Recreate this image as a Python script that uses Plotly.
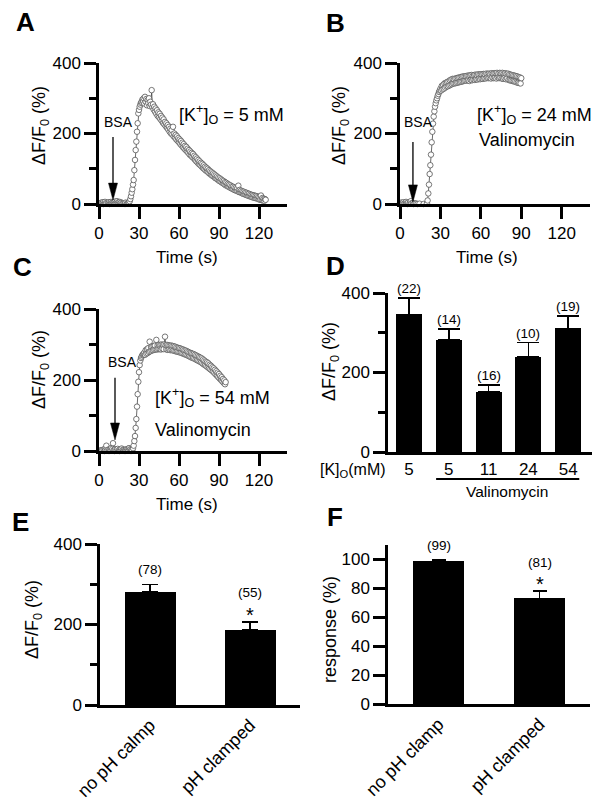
import plotly.graph_objects as go

# The page adds an 8 px body margin, so the figure is 16 px smaller than the window
# and every reference pixel position is shifted by that margin.
OFF = 8
FW, FH = 600 - 2 * OFF, 808 - 2 * OFF
FONT = "Liberation Sans, Arial, Helvetica, sans-serif"

# ------------------------------------------------------------------ data
SAMPLE_INTERVAL_S = 0.5

trace_a_values = [
    2, 0, 3, -2, 4, 1, 5, 0, 2, 6, 1, 3, -1, 4, 2, 5, 0, 3, 6, 2,
    4, 1, 5, 3, 7, 2, 4, 8, 3, 5, 1, 6, 2, 4, -2, 3, 1, -3, 2, 0,
    4, -1, 2, 1, 3,
    5, 8, 14, 22, 32, 42, 55, 68, 96, 125, 153, 177, 205, 229, 257, 267, 276, 282, 287, 290,
    296, 292,
    300, 285, 304, 290, 298, 280, 295, 286, 300, 278, 290, 282, 323, 275,
    283, 268, 276, 262, 271, 256, 266, 250, 260, 246,
    256, 241, 250, 236, 245, 230, 240, 226, 233, 221,
    229, 216, 224, 211, 219, 205, 214, 200, 210, 197,
    219, 192, 200, 188, 196, 183, 192, 179, 187, 175,
    183, 170, 179, 166, 174, 161, 170, 157, 165, 153,
    162, 149, 157, 145, 153, 140, 149, 137, 145, 133,
    142, 130, 137, 125, 133, 121, 129, 117, 125, 113,
    121, 110, 117, 106, 114, 102, 110, 99, 106, 95,
    103, 93, 100, 89, 96, 86, 93, 83, 90, 80,
    87, 78, 84, 74, 81, 72, 78, 69, 75, 66,
    73, 64, 70, 61, 67, 59, 65, 56, 62, 53,
    60, 52, 57, 49, 55, 47, 53, 45, 50, 43,
    49, 41, 47, 39, 45, 38, 43, 36, 52, 34,
    40, 33, 38, 31, 36, 29, 35, 28, 33, 26,
    32, 25, 30, 23, 29, 22, 27, 21, 26, 19,
    25, 18, 24, 17, 23, 16, 22, 15, 20, 13,
    19, 12, 24, 11, 17, 10, 15, 9, 14, 12,
]

trace_b_values = [
    3, 0, 4, -2, 2, 5, 1, -1, 3, 6, 2, 0, 4, -3, 1, 5, 8, 2, -2, 3,
    0, -4, 2, -3, 1, -5, 0, -2, -6, 1, -4, -1, -7, -2, -5, 0, -6, -3, -8, -2,
    2,
    10, 30, 55, 85, 110, 140, 175, 205, 228, 248, 263, 276, 286, 294, 300, 307, 312, 318, 322, 327,
    322, 335, 325, 338, 327, 342, 330, 344, 333, 346,
    334, 348, 336, 351, 338, 353, 340, 355, 342, 354,
    342, 356, 343, 357, 344, 358, 345, 359, 346, 360,
    347, 361, 348, 362, 349, 362, 350, 363, 350, 364,
    351, 364, 349, 365, 352, 366, 351, 364, 353, 366,
    352, 367, 354, 366, 353, 368, 355, 367, 354, 368,
    356, 368, 355, 369, 357, 368, 356, 370, 358, 369,
    357, 370, 358, 369, 356, 371, 359, 370, 357, 371,
    358, 371, 356, 372, 359, 370, 357, 372, 358, 371,
    356, 372, 355, 370, 357, 371, 354, 369, 356, 370,
    352, 368, 351, 367, 350, 366, 349, 365, 348, 364,
    347, 363, 345, 362, 344, 360, 343, 359, 342, 357,
]

trace_c_values = [
    0, -3, 2, -4, 1, 3, -2, 4, 0, 6, 3, 15, 2, -3, 4, 0, 5, 2, 8, 1,
    6, 22, 3, 0, 5, -2, 4, 1, 6, -1, 3, 0, 5, 2, 7, -2, 4, 1, 3, 0,
    2, 5, 1, 6, 2, 8, 3, 5, 0, 4, 2,
    8, 15, 28, 42, 65, 90, 125, 160, 195, 222, 242, 255, 262, 266, 270, 272, 274, 277,
    271, 284,
    274, 287, 276, 290, 279, 308, 281, 293, 283, 295,
    284, 296, 285, 297, 286, 313, 286, 298, 287, 299,
    287, 299, 286, 300, 288, 299, 287, 300, 322, 298,
    286, 299, 285, 298, 286, 297, 284, 297, 285, 296,
    283, 295, 282, 294, 281, 292, 280, 291, 279, 290,
    278, 289, 277, 287, 275, 286, 274, 284, 272, 283,
    271, 281, 269, 279, 267, 277, 265, 276, 263, 274,
    262, 273, 260, 271, 258, 269, 256, 267, 254, 265,
    252, 263, 250, 261, 247, 258, 244, 255, 242, 252,
    239, 250, 236, 247, 233, 243, 230, 240, 227, 236,
    224, 233, 220, 229, 216, 225, 212, 221, 208, 217,
    204, 212, 200, 208, 196, 203, 192, 199, 188, 194,
]

bsa_time_a = 10.5
bsa_time_b = 9.6
bsa_time_c = 12.0

time_ticks = [0, 30, 60, 90, 120]
df_ticks = [0, 200, 400]
df_minor_ticks = [100, 300]

d_labels = ["5", "5", "11", "24", "54"]
d_means = [346, 282, 152, 239, 311]
d_sem = [41, 27, 17, 36, 31]
d_n = ["(22)", "(14)", "(16)", "(10)", "(19)"]

e_labels = ["no pH calmp", "pH clamped"]
e_means = [281, 186]
e_sem = [18, 20]
e_n = ["(78)", "(55)"]

f_labels = ["no pH clamp", "pH clamped"]
f_means = [99, 73]
f_sem = [0.5, 5]
f_n = ["(99)", "(81)"]
f_ticks = [0, 20, 40, 60, 80, 100]


def times_for(values):
    return [i * SAMPLE_INTERVAL_S for i in range(len(values))]


# ------------------------------------------------------------------ geometry helpers
def px(x):
    return (x - OFF) / FW


def py(y):
    return 1 - (y - OFF) / FH


def dom_x(p0, p1):
    return [px(p0), px(p1)]


def dom_y(top, bottom):
    return [py(bottom), py(top)]


TIME_RANGE = [0, 141]
DF_RANGE = [0, 400]

geo = {
    "A": dict(xd=dom_x(99, 287), yd=dom_y(63, 204), xr=TIME_RANGE, yr=DF_RANGE),
    "B": dict(xd=dom_x(400, 590), yd=dom_y(63, 204), xr=TIME_RANGE, yr=DF_RANGE),
    "C": dict(xd=dom_x(99, 287), yd=dom_y(309, 451), xr=TIME_RANGE, yr=DF_RANGE),
    "D": dict(xd=dom_x(388, 592), yd=dom_y(293, 452), xr=[0.47, 5.6], yr=DF_RANGE),
    "E": dict(xd=dom_x(100, 300), yd=dom_y(544, 705), xr=[-0.5, 1.5], yr=DF_RANGE),
    "F": dict(xd=dom_x(388, 590), yd=dom_y(545, 704), xr=[-0.5, 1.5], yr=[0, 110]),
}
axis_ids = {"A": "", "B": "2", "C": "3", "D": "4", "E": "5", "F": "6"}

tickfont = dict(size=17, family=FONT, color="black")
base_axis = dict(showline=True, linecolor="black", linewidth=2.5, showgrid=False,
                 zeroline=False, tickcolor="black", tickwidth=2.5, ticklen=12,
                 tickfont=tickfont, fixedrange=True, automargin=False)
minor_df = dict(tickmode="array", tickvals=df_minor_ticks, ticks="outside", ticklen=7,
                tickwidth=2.5, tickcolor="black", showgrid=False)

fig = go.Figure()

# ------------------------------------------------------------------ time-course traces
line_style = dict(color="#444444", width=0.8)
marker_style = dict(symbol="circle", size=5.5, color="white",
                    line=dict(color="#555555", width=0.8))
for key, vals in (("A", trace_a_values), ("B", trace_b_values), ("C", trace_c_values)):
    sid = axis_ids[key]
    fig.add_trace(go.Scatter(
        x=times_for(vals), y=vals, mode="lines+markers",
        line=line_style, marker=marker_style, cliponaxis=False,
        xaxis="x" + sid, yaxis="y" + sid, showlegend=False, hoverinfo="skip"))


# ------------------------------------------------------------------ bar panels
def bar_trace(xs, means, sem, sid, width, capw):
    return go.Bar(
        x=xs, y=means, width=width, marker=dict(color="black", line=dict(width=0)),
        error_y=dict(type="data", symmetric=False, array=sem, arrayminus=[0] * len(sem),
                     color="black", thickness=1.6, width=capw),
        xaxis="x" + sid, yaxis="y" + sid, showlegend=False, hoverinfo="skip")


d_pos = list(range(1, len(d_means) + 1))
e_pos = list(range(len(e_means)))
f_pos = list(range(len(f_means)))
fig.add_trace(bar_trace(d_pos, d_means, d_sem, "4", 0.65, 11))
fig.add_trace(bar_trace(e_pos, e_means, e_sem, "5", 0.51, 8))
fig.add_trace(bar_trace(f_pos, f_means, f_sem, "6", 0.51, 7))

# ------------------------------------------------------------------ axes
layout_axes = {}
for key in "ABC":
    g = geo[key]
    sid = axis_ids[key]
    layout_axes["xaxis" + sid] = dict(base_axis, domain=g["xd"], range=g["xr"], anchor="y" + sid,
                                      ticks="outside", tickmode="array", tickvals=time_ticks)
    layout_axes["yaxis" + sid] = dict(base_axis, domain=g["yd"], range=g["yr"], anchor="x" + sid,
                                      ticks="outside", tickmode="array", tickvals=df_ticks,
                                      minor=minor_df)

g = geo["D"]
layout_axes["xaxis4"] = dict(base_axis, domain=g["xd"], range=g["xr"], anchor="y4", ticks="",
                             tickmode="array", tickvals=d_pos, ticktext=d_labels)
layout_axes["yaxis4"] = dict(base_axis, domain=g["yd"], range=g["yr"], anchor="x4", ticks="outside",
                             tickmode="array", tickvals=df_ticks, minor=minor_df)
g = geo["E"]
layout_axes["xaxis5"] = dict(base_axis, domain=g["xd"], range=g["xr"], anchor="y5", ticks="",
                             tickmode="array", tickvals=e_pos, ticktext=e_labels, tickangle=-45,
                             tickfont=dict(tickfont, size=18))
layout_axes["yaxis5"] = dict(base_axis, domain=g["yd"], range=g["yr"], anchor="x5", ticks="outside",
                             tickmode="array", tickvals=df_ticks, minor=minor_df)
g = geo["F"]
layout_axes["xaxis6"] = dict(base_axis, domain=g["xd"], range=g["xr"], anchor="y6", ticks="",
                             tickmode="array", tickvals=f_pos, ticktext=f_labels, tickangle=-45,
                             tickfont=dict(tickfont, size=18))
layout_axes["yaxis6"] = dict(base_axis, domain=g["yd"], range=g["yr"], anchor="x6", ticks="outside",
                             tickmode="array", tickvals=f_ticks)

# ------------------------------------------------------------------ annotations
ann = []


def text(x, y, s, size, xref="paper", yref="paper", xanchor="center", yanchor="middle",
         bold=False, angle=0, yshift=0):
    ann.append(dict(x=x, y=y, xref=xref, yref=yref, text=("<b>%s</b>" % s) if bold else s,
                    showarrow=False, xanchor=xanchor, yanchor=yanchor, textangle=angle,
                    yshift=yshift, font=dict(size=size, family=FONT, color="black")))


# panel letters
for letter, (lx, ly) in {"A": (25, 22), "B": (335, 23), "C": (22, 267),
                         "D": (335, 266), "E": (20, 522), "F": (335, 517)}.items():
    text(px(lx), py(ly), letter, 26, bold=True)

# axis titles
for cx, cy in ((187, 258), (487, 258), (187, 505)):
    text(px(cx), py(cy), "Time (s)", 17)
df_title = "\u0394F/F<sub>0</sub> (%)"
for cx, cy in ((40, 126), (340, 126), (40, 370), (330, 362), (33, 620)):
    text(px(cx), py(cy), df_title, 18, angle=-90)
text(px(330), py(630), "response (%)", 18, angle=-90)

# condition labels inside the time-course panels
K = "[K<sup>+</sup>]<sub>O</sub>"
text(58.5, 255, K + " = 5 mM", 18, xref="x", yref="y", xanchor="left")
text(56, 255, K + " = 24 mM", 18, xref="x2", yref="y2", xanchor="left")
text(57, 182, "Valinomycin", 18, xref="x2", yref="y2", xanchor="left")
text(40.5, 150, K + " = 54 mM", 18, xref="x3", yref="y3", xanchor="left")
text(40.5, 59, "Valinomycin", 18, xref="x3", yref="y3", xanchor="left")

# BSA labels
text(bsa_time_a + 3.8, 233, "BSA", 14, xref="x", yref="y")
text(bsa_time_b + 4.0, 233, "BSA", 14, xref="x2", yref="y2")
text(bsa_time_c + 5.8, 252, "BSA", 14, xref="x3", yref="y3")

# n labels above bars
for xv, m, s, n in zip(d_pos, d_means, d_sem, d_n):
    text(xv, m + s, n, 13.5, xref="x4", yref="y4", yanchor="bottom", yshift=0)

text(e_pos[0], e_means[0] + e_sem[0], e_n[0], 13.5, xref="x5", yref="y5", yanchor="bottom", yshift=6)
text(e_pos[1], e_means[1] + e_sem[1], "*", 20, xref="x5", yref="y5", yanchor="bottom", yshift=-6)
text(e_pos[1], e_means[1] + e_sem[1], e_n[1], 13.5, xref="x5", yref="y5", yanchor="bottom", yshift=20)
text(f_pos[0], f_means[0] + f_sem[0], f_n[0], 13.5, xref="x6", yref="y6", yanchor="bottom", yshift=5)
text(f_pos[1], f_means[1] + f_sem[1], "*", 20, xref="x6", yref="y6", yanchor="bottom", yshift=-6)
text(f_pos[1], f_means[1] + f_sem[1], f_n[1], 13.5, xref="x6", yref="y6", yanchor="bottom", yshift=19)

# D: [K]o label and valinomycin bracket
text(px(388), py(470), "[K]<sub>O</sub>(mM)", 16, xanchor="right")
text(px(507), py(491), "Valinomycin", 15.5)

shapes = [dict(type="line", xref="x4", yref="paper", x0=1.68, x1=5.28, y0=py(479), y1=py(479),
               line=dict(color="black", width=2))]


def bsa_arrow(key, t, y_top, y_tip):
    g = geo[key]
    sid = axis_ids[key]
    ux = (g["xr"][1] - g["xr"][0]) / ((g["xd"][1] - g["xd"][0]) * FW)
    uy = (g["yr"][1] - g["yr"][0]) / ((g["yd"][1] - g["yd"][0]) * FH)
    head = 17 * uy
    half = 4.5 * ux
    base = y_tip + head
    shapes.append(dict(type="line", xref="x" + sid, yref="y" + sid, x0=t, x1=t, y0=y_top, y1=base,
                       line=dict(color="black", width=1.3)))
    shapes.append(dict(type="path", xref="x" + sid, yref="y" + sid,
                       path="M %f,%f L %f,%f L %f,%f Z" % (t - half, base, t + half, base, t, y_tip),
                       fillcolor="black", line=dict(color="black", width=0.5)))


bsa_arrow("A", bsa_time_a, 190, 11)
bsa_arrow("B", bsa_time_b, 176, 6)
bsa_arrow("C", bsa_time_c, 206, 31)

fig.update_layout(
    template="none",
    width=FW, height=FH, margin=dict(l=0, r=0, t=0, b=0, pad=0, autoexpand=False),
    paper_bgcolor="white", plot_bgcolor="white",
    font=dict(family=FONT, color="black"),
    showlegend=False, bargap=0,
    annotations=ann, shapes=shapes,
    **layout_axes,
)

fig.write_html("out.html")
